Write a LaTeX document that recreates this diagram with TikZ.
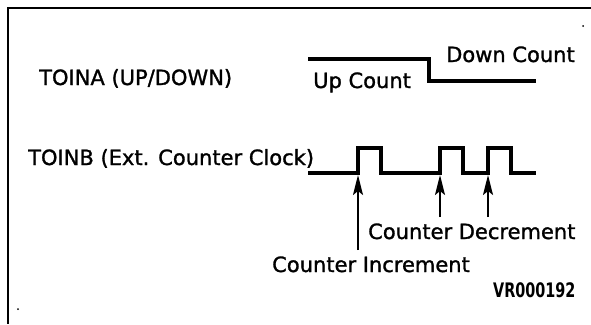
\documentclass[tikz,border=0pt]{standalone}
\usepackage{fontspec}
\setmainfont{DejaVu Sans}
\newfontfamily\plotfont{DejaVu Sans}[FakeBold=1.3]
\usepackage{tikz}
\usetikzlibrary{arrows.meta,positioning}

\begin{document}
\begin{tikzpicture}[x=1pt, y=-1pt]
\tikzstyle{sigtext} = [inner sep=0pt, anchor=base west, font=\plotfont\fontsize{21}{25}\selectfont]
\tikzstyle{tagtext} = [inner sep=0pt, anchor=base west, font=\fontsize{20}{24}\selectfont\bfseries, xscale=0.72]
\tikzstyle{frame} = [line width=1.8pt]
\tikzstyle{signal} = [line width=3.5pt, line join=miter]
\tikzstyle{arrow} = [line width=2pt, -{Stealth[length=20pt, width=10pt, inset=4pt]}]

\useasboundingbox (0,0) rectangle (591,324);
\draw[frame] (591,8) -- (8,8) -- (8,324);
\fill (583,26) circle (1pt);
\fill (18,309) circle (1pt);

\node (toina) [sigtext] at (39,85) {TOINA (UP/DOWN)};
\node (toinb) [sigtext] at (28,165) {TOINB (Ext. Counter Clock)};

\coordinate (udstart) at (308,59);
\coordinate (udhigh) at (429,59);
\coordinate (udlow) at (429,81);
\coordinate (udend) at (536,81);
\draw[signal] (udstart) -- (udhigh) -- (udlow) -- (udend);
\node (upcount) [sigtext] at (313,88) {Up Count};
\node (downcount) [sigtext] at (446,62) {Down Count};

\coordinate (inc) at (358,175);
\coordinate (decone) at (440,175);
\coordinate (dectwo) at (488,175);
\draw[signal] (308,173) -- (358,173) -- (358,148) -- (381,148) -- (381,173)
  -- (440,173) -- (440,148) -- (463,148) -- (463,173)
  -- (488,173) -- (488,148) -- (511,148) -- (511,173) -- (536,173);

\coordinate (incfoot) at (358,250);
\coordinate (deconefoot) at (440,217);
\coordinate (dectwofoot) at (488,217);
\draw[arrow] (incfoot) -- (inc);
\draw[arrow] (deconefoot) -- (decone);
\draw[arrow] (dectwofoot) -- (dectwo);

\node (decrement) [sigtext] at (368,239) {Counter Decrement};
\node (increment) [sigtext] at (272,272) {Counter Increment};
\node (tag) [tagtext] at (493,297) {VR000192};
\end{tikzpicture}
\end{document}
